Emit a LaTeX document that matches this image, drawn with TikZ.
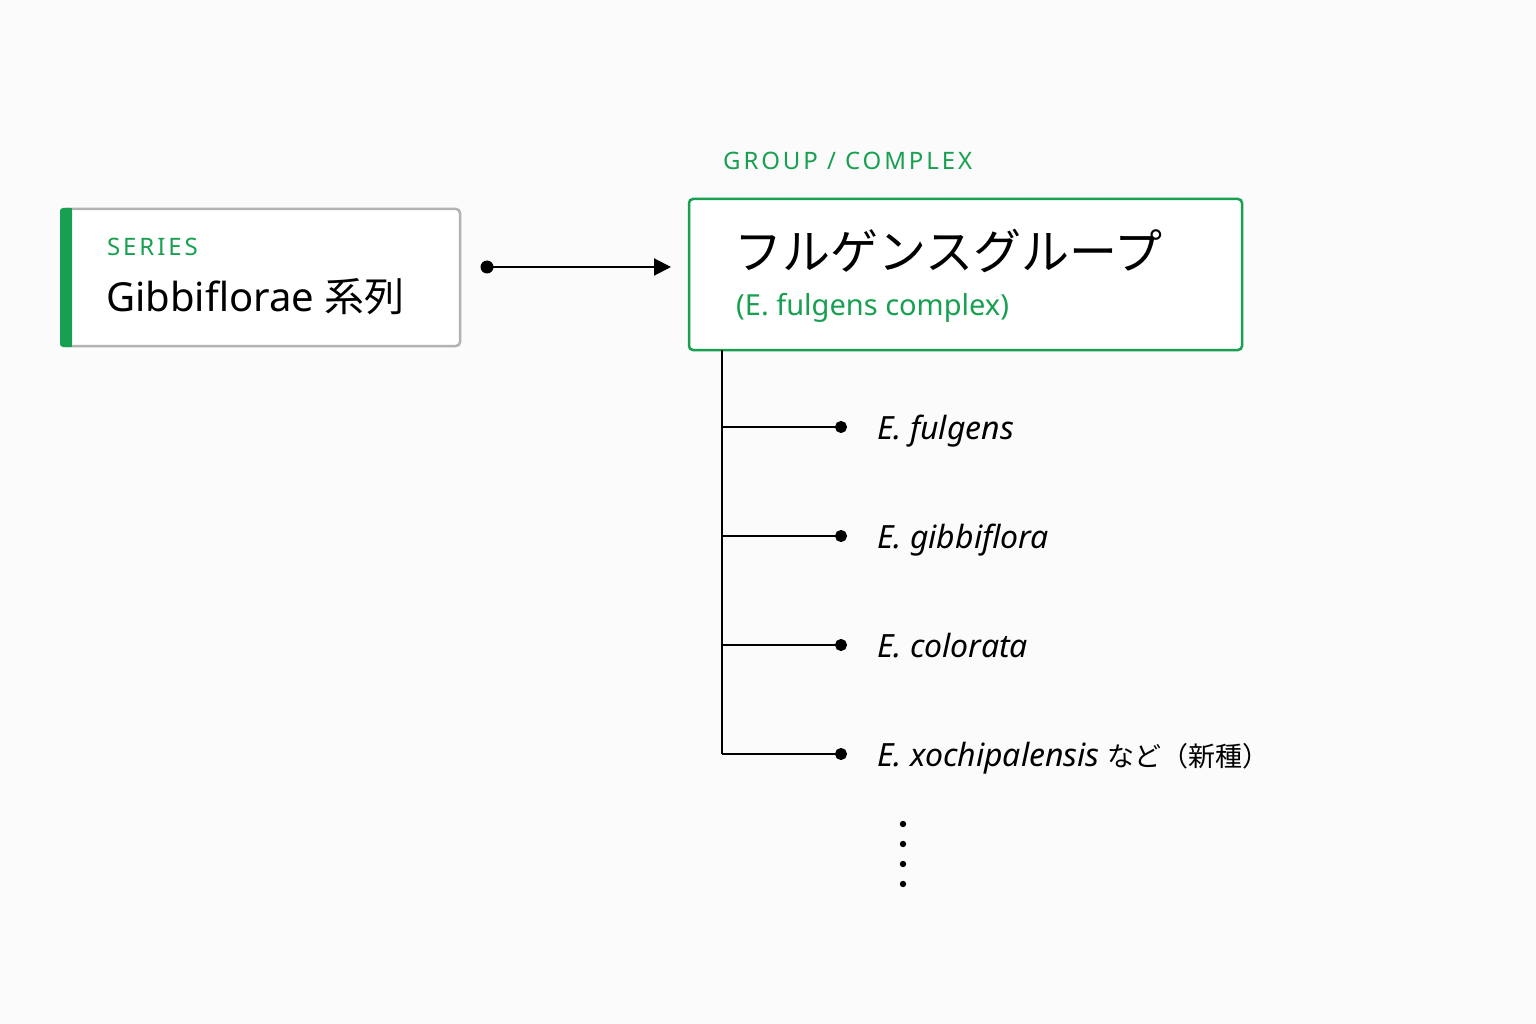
\documentclass[tikz,border=0pt]{standalone}
\usepackage{fontspec}
\setmainfont{Noto Sans}
\newfontfamily\jp{Noto Sans CJK JP}
\usetikzlibrary{arrows.meta}
\definecolor{grn}{HTML}{17A050}
\definecolor{bg}{HTML}{FBFBFB}
\tikzset{lbl/.style={anchor=base west,inner sep=0pt},
 spc/.style={lbl,font=\fontsize{32}{36}\selectfont\itshape},
 br/.style={line width=2pt,-{Circle[length=12pt]}},
 captxt/.style={lbl,text=grn,font=\fontsize{24}{28}\selectfont\addfontfeature{LetterSpace=12}}}
\begin{document}
\begin{tikzpicture}[x=1pt,y=-1pt]
\useasboundingbox[fill=bg] (0,0) rectangle (1536,1024);
\draw[line width=2.5pt,draw=black!30,fill=white,rounded corners=4pt] (62,209) rectangle (460,346);
\fill[grn,rounded corners=3pt] (60,208) rectangle (72,347);
\fill[grn] (66,208) rectangle (72,347);
\node[captxt] (s) at (107,256) {SERIES};
\node[lbl,font=\fontsize{40}{44}\selectfont] (g) at (106,312) {Gibbiflorae {\jp 系列}};
\coordinate (a1) at (487,267);
\coordinate (a2) at (671,267);
\fill (a1) circle (6.5pt);
\draw[line width=2pt,-{Triangle[length=17pt,width=17pt]}] (a1) -- (a2);
\node[captxt] (gc) at (723,170) {GROUP / COMPLEX};
\draw[line width=2.5pt,draw=grn,fill=white,rounded corners=4pt] (689,199) rectangle (1242,350);
\node[lbl,font=\fontsize{48}{52}\selectfont\jp] (t) at (734,270) {フルゲンスグループ};
\node[lbl,text=grn,font=\fontsize{29}{32}\selectfont] (st) at (736,316) {(E. fulgens complex)};
\coordinate (v0) at (722,350);
\coordinate (v1) at (722,427);\coordinate (d1) at (847,427);
\coordinate (v2) at (722,536);\coordinate (d2) at (847,536);
\coordinate (v3) at (722,645);\coordinate (d3) at (847,645);
\coordinate (v4) at (722,754);\coordinate (d4) at (847,754);
\draw[line width=2pt] (v0) -- (v4);
\foreach \i in {1,2,3,4}{\draw[br] (v\i) -- (d\i);}
\node[spc] (e1) at (877,439) {E. fulgens};
\node[spc] (e2) at (877,548) {E. gibbiflora};
\node[spc] (e3) at (877,657) {E. colorata};
\node[spc] (e4) at (877,766) {E. xochipalensis {\upshape\jp\fontsize{27}{30}\selectfont など（新種）}};
\foreach \y in {824,844,864,884}{\fill (903,\y) circle (3.2pt);}
\end{tikzpicture}
\end{document}
